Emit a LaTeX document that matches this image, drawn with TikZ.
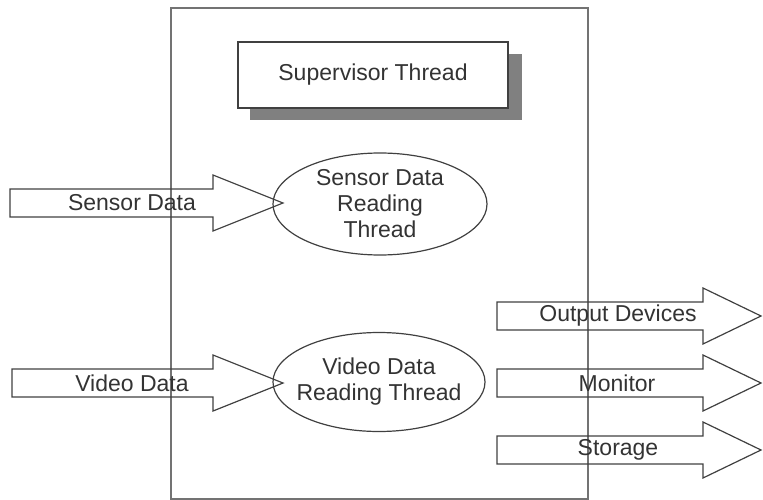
\documentclass[tikz,border=0pt]{standalone}
\usepackage{fontspec}
\setmainfont{Liberation Sans}
\usetikzlibrary{shapes.geometric}

% hollow block arrow: #1 start x, #2 centre y, #3 x where the head begins, #4 tip x
\newcommand\FatArrow[4]{%
  \draw[fat] (#1,#2-14) -- (#3,#2-14) -- (#3,#2-28) -- (#4,#2)
    -- (#3,#2+28) -- (#3,#2+14) -- (#1,#2+14) -- cycle;}

\begin{document}
\begin{tikzpicture}[x=1pt,y=-1pt,
  fat/.style={draw=black!75,line width=1.2pt,line join=miter},
  lbl/.style={font=\fontsize{23}{26}\selectfont,text=black!80,inner sep=0pt,align=center},
  thread/.style={ellipse,draw=black!75,line width=1.2pt,inner sep=0pt},
  frame/.style={draw=black!55,line width=1.6pt,inner sep=0pt,anchor=north west}]
\useasboundingbox (0,0) rectangle (763,500);

% process boundary
\node[frame,minimum width=417pt,minimum height=491pt] (proc) at (170,7) {};

% supervisor box with drop shadow
\fill[black!50] (250,54) rectangle (522,120);
\node[draw=black!75,line width=1.2pt,fill=white,minimum width=270pt,minimum height=66pt,
  font=\fontsize{23}{26}\selectfont,text=black!80] (super) at (373,75) {Supervisor Thread};

% reading threads
\node[thread,minimum width=214pt,minimum height=102pt] (sensorthr) at (380,204) {};
\node[lbl] (sensorthrtxt) at (sensorthr.center) {Sensor Data\\Reading\\Thread};
\node[thread,minimum width=212pt,minimum height=99pt] (videothr) at (379,382) {};
\node[lbl] (videothrtxt) at (videothr.center) {Video Data\\Reading Thread};

% incoming data
\FatArrow{10}{203}{213}{283}
\node[lbl] (sensorin) at (132,203) {Sensor Data};
\FatArrow{12}{383}{213}{283}
\node[lbl] (videoin) at (132,383) {Video Data};

% outgoing data
\FatArrow{497}{316}{703}{761}
\node[lbl] (outdev) at (618,316) {Output Devices};
\FatArrow{497}{383}{703}{761}
\node[lbl] (monitor) at (617,383) {Monitor};
\FatArrow{497}{450}{703}{761}
\node[lbl] (storage) at (618,450) {Storage};
\end{tikzpicture}
\end{document}
